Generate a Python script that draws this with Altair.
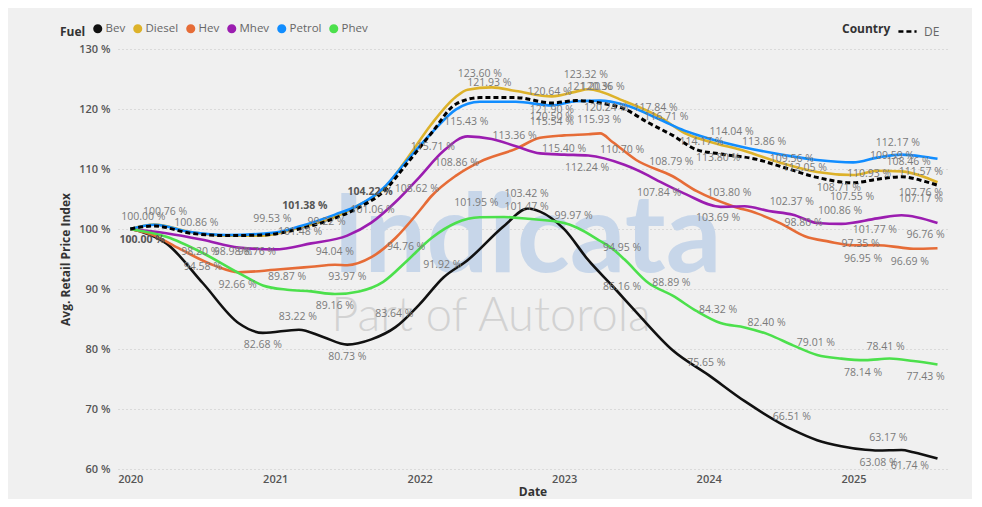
import altair as alt
import pandas as pd

# ---------------- data ----------------
fuels = ["Bev", "Diesel", "Hev", "Mhev", "Petrol", "Phev"]
fuel_colors = ["#111111", "#DDB22A", "#E66C37", "#9B1DB0", "#118DFF", "#4CE04C"]

# month index 0 = Jan 2020
bev_m = [0, 1, 3, 6, 9, 11, 14, 16, 18, 20, 22, 24, 26, 28, 31, 33, 34, 36, 38, 40, 42, 45, 48, 51, 55, 57, 59, 61, 62, 64, 65, 67]
bev_v = [100.0, 99.5, 97.6, 91.0, 84.3, 82.68, 83.22, 82.0, 80.73, 81.6, 83.64, 87.4, 91.92, 94.8, 100.5, 103.42, 102.9, 99.97,
         94.8, 90.5, 86.16, 79.8, 75.65, 71.3, 66.51, 64.8, 63.8, 63.2, 63.08, 63.17, 62.8, 61.74]

phev_m = [0, 3, 6, 9, 11, 13, 15, 17, 19, 21, 23, 25, 27, 29, 31, 33, 36, 37, 39, 40, 41, 43, 45, 47, 49, 51, 53, 55, 57, 59, 61, 63, 65, 67]
phev_v = [100.0, 98.7, 96.0, 92.66, 90.6, 89.87, 89.6, 89.16, 89.6, 91.2, 94.76, 98.5, 101.0, 101.95, 102.0, 101.7, 101.0, 100.3,
          98.0, 96.7, 94.95, 91.0, 88.89, 86.3, 84.32, 83.6, 82.4, 80.6, 79.01, 78.4, 78.14, 78.41, 78.0, 77.43]

hev_m = [0, 2, 4, 7, 9, 12, 15, 17, 18, 20, 22, 24, 25, 27, 29, 32, 34, 36, 38, 39, 40, 42, 45, 47, 50, 52, 54, 56, 58, 60, 62, 64, 65, 67]
hev_v = [100.0, 98.9, 96.8, 93.9, 92.8, 93.2, 93.7, 94.04, 93.97, 95.3, 98.5, 103.0, 105.5, 108.86, 111.2, 113.36, 115.2, 115.6,
         115.8, 115.93, 114.5, 111.5, 108.79, 106.3, 103.8, 102.6, 100.9, 98.8, 97.9, 97.3, 97.3, 96.9, 96.7, 96.8]

mhev_m = [0, 3, 6, 9, 12, 15, 18, 20, 22, 24, 26, 28, 30, 32, 34, 36, 38, 41, 43, 44, 46, 49, 51, 53, 55, 57, 59, 62, 64, 67]
mhev_v = [100.0, 99.3, 98.2, 96.9, 96.6, 97.6, 98.9, 101.06, 104.5, 108.62, 113.0, 115.43, 115.0, 113.8, 112.6, 112.4, 112.24,
          110.7, 108.9, 107.84, 105.9, 103.69, 103.8, 103.0, 102.37, 101.0, 100.86, 101.77, 102.3, 101.0]

petrol_m = [0, 2, 5, 8, 12, 14, 17, 19, 21, 23, 25, 27, 29, 32, 35, 37, 39, 41, 44, 46, 48, 51, 54, 57, 60, 62, 64, 66, 67]
petrol_v = [100.0, 100.7, 99.5, 99.0, 99.4, 100.4, 102.4, 104.0, 106.8, 111.5, 116.0, 119.9, 121.2, 121.2, 120.6, 121.3, 121.4,
            120.7, 118.2, 116.4, 115.1, 113.6, 112.4, 111.5, 111.1, 111.9, 112.4, 112.0, 111.7]

diesel_m = [0, 2, 5, 8, 11, 14, 17, 19, 21, 23, 25, 27, 28, 30, 32, 35, 37, 38, 41, 44, 46, 48, 51, 54, 57, 60, 62, 64, 66, 67]
diesel_v = [100.0, 100.76, 99.5, 98.9, 98.9, 100.2, 102.0, 104.0, 106.6, 111.8, 117.5, 122.0, 123.2, 123.6, 123.0, 122.1, 122.9,
            123.3, 121.3, 118.6, 116.0, 114.6, 113.0, 111.0, 109.5, 109.0, 109.7, 109.6, 108.6, 107.8]

de_m = [0, 2, 5, 8, 11, 14, 17, 19, 21, 23, 25, 27, 29, 32, 35, 37, 39, 41, 43, 45, 47, 49, 52, 54, 57, 60, 62, 64, 66, 67]
de_v = [100.0, 100.5, 99.3, 98.9, 99.0, 100.0, 101.8, 103.6, 106.2, 111.0, 116.0, 120.8, 121.9, 121.9, 121.0, 121.4, 121.0,
        120.0, 117.7, 115.6, 113.2, 112.5, 111.6, 110.4, 108.6, 107.7, 108.3, 108.7, 107.9, 107.3]

# data labels: month position, value shown, vertical offset (px), bold
lab_m = [1.1, 2.9, 1.0, 5.5, 5.8, 8.5, 10.5, 6.0, 8.9, 13.0, 11.8, 14.5, 16.3, 14.1, 20.1, 19.9, 17.0, 18.0, 17.0, 13.9,
         11.0, 18.0, 21.9, 22.9, 23.8, 25.1, 27.1, 25.9, 28.7, 27.9, 29.0, 29.8, 31.9, 32.9, 32.9, 34.8, 35.0, 35.0,
         35.0, 36.0, 36.8, 37.9, 37.8, 38.1, 39.2, 39.5, 38.9, 40.8, 40.8, 40.8, 43.6, 44.5, 44.9, 43.9, 44.9, 49.9,
         47.4, 52.6, 48.8, 49.7, 48.8, 48.8, 47.8, 52.8, 54.9, 56.0, 54.9, 55.9, 56.9, 54.9, 58.8, 59.9, 58.9, 60.6,
         60.8, 61.3, 61.8, 63.7, 63.2, 64.6, 65.6, 65.6, 65.6, 66.0, 64.7, 62.7, 60.8, 66.0, 62.9, 62.1, 64.7]
lab_v = [100.00, 100.76, 100.00, 100.86, 98.20, 98.98, 98.76, 94.58, 92.66, 89.87, 99.53, 101.38, 99.22, 101.48, 101.06,
         104.22, 94.04, 93.97, 89.16, 83.22, 82.68, 80.73, 83.64, 94.76, 108.62, 115.71, 108.86, 91.92, 101.95, 115.43,
         123.60, 121.93, 113.36, 103.42, 101.47, 120.64, 121.90, 120.50, 115.54, 115.40, 99.97, 112.24, 123.32, 121.20,
         120.36, 120.24, 115.93, 110.70, 94.95, 86.16, 117.84, 116.71, 108.79, 107.84, 88.89, 114.04, 114.17, 113.86,
         113.80, 103.80, 103.69, 84.32, 75.65, 82.40, 109.56, 112.05, 102.37, 98.80, 79.01, 66.51, 108.71, 107.55,
         100.86, 97.35, 96.95, 110.93, 101.77, 112.17, 109.59, 108.46, 111.57, 107.76, 107.17, 96.76, 96.69, 78.41,
         78.14, 77.43, 63.17, 63.08, 61.74]
lab_dy = [-12, -12, 11, -1, 12, 17, 16, 5, 12, -13, -13, -15, -12, 12, -13, -12, -13, 12, 12, -13,
          12, 12, -13, -13, 12, 12, -13, -12, -14, -14, -13, -14, -13, -14, -13, -13, 12, 11,
          -14, 12, -13, 12, -14, -15, -20, 0, -13, -15, -11, -25, -14, -12, -14, 11, -13, -13,
          -2, -4, 12, -13, 11, -13, -12, -12, -13, 11, -13, -13, -12, -13, 11, 13, -13, -1,
          12, 11, 12, -13, -15, -16, 12, 11, 13, -13, 13, -12, 13, 13, -12, 12, 7]
lab_bold = [False, False, True, False, False, False, False, False, False, False, False, True, False, False, False,
            True] + [False] * 75

# ---------------- tables ----------------
START = pd.Timestamp("2020-01-01")


def month_to_date(m):
    return (START + pd.Timedelta(days=round(m * 30.4375))).strftime("%Y-%m-%d")


series = {"Bev": (bev_m, bev_v), "Diesel": (diesel_m, diesel_v), "Hev": (hev_m, hev_v),
          "Mhev": (mhev_m, mhev_v), "Petrol": (petrol_m, petrol_v), "Phev": (phev_m, phev_v)}
rows = []
for fuel in fuels:
    ms, vs = series[fuel]
    for m, v in zip(ms, vs):
        rows.append({"Fuel": fuel, "Date": month_to_date(m), "value": v})
fuel_df = pd.DataFrame(rows)

de_df = pd.DataFrame({"Country": "DE", "Date": [month_to_date(m) for m in de_m], "value": de_v})

lab_df = pd.DataFrame({
    "Date": [month_to_date(m) for m in lab_m],
    "value": lab_v,
    "dy": lab_dy,
    "bold": lab_bold,
    "label": [f"{v:.2f} %" for v in lab_v],
})

FONT = "Segoe UI, Open Sans, sans-serif"

x_enc = alt.X(
    "Date:T",
    scale=alt.Scale(domain=["2019-12-01", "2025-08-25"]),
    axis=alt.Axis(
        title="Date", format="%Y",
        values=[alt.DateTime(year=y, month=1, date=1) for y in range(2020, 2026)],
        grid=False, domain=False, ticks=False, labelPadding=4, labelFontSize=11,
        labelColor="#555555", labelFontWeight=600, titleFontSize=12, titleFontWeight="bold",
        titleColor="#333333", titlePadding=2,
    ),
)
y_enc = alt.Y(
    "value:Q",
    scale=alt.Scale(domain=[60, 130], nice=False, zero=False),
    axis=alt.Axis(
        title="Avg. Retail Price Index", values=list(range(60, 131, 10)),
        labelExpr="datum.value + ' %'", grid=True, gridDash=[1, 3], gridColor="#c4c4c4",
        domain=False, ticks=False, labelPadding=8, labelFontSize=11, labelColor="#555555",
        labelFontWeight=600, titleFontSize=12, titleFontWeight="bold", titleColor="#333333",
        titlePadding=6,
    ),
)

# watermark
wm1 = alt.Chart(pd.DataFrame({"t": ["Indicata"]})).mark_text(
    font="Lato", fontSize=110, fontWeight="bold", color="#c7d6e9", align="center", baseline="alphabetic"
).encode(x=alt.value(409), y=alt.value(223), text="t:N")
wm2 = alt.Chart(pd.DataFrame({"t": ["Part of Autorola"]})).mark_text(
    font="Lato", fontSize=47, fontWeight=300, color="#d2d2d2", align="center", baseline="alphabetic"
).encode(x=alt.value(373), y=alt.value(282), text="t:N")

lines = alt.Chart(fuel_df).mark_line(interpolate="monotone", strokeWidth=2.6).encode(
    x=x_enc, y=y_enc,
    color=alt.Color("Fuel:N", scale=alt.Scale(domain=fuels, range=fuel_colors), legend=alt.Legend(
        title="Fuel", orient="none", legendX=-58, legendY=-26, direction="horizontal",
        titleOrient="left", titleFontSize=12, titleFontWeight="bold", titleColor="#333333",
        titlePadding=6, labelFontSize=11.5, labelColor="#666666", symbolType="circle", symbolSize=20,
        symbolStrokeWidth=4.6, labelOffset=2, columnPadding=0, gridAlign="none",
        titleFont=FONT, labelFont=FONT,
    )),
)

de_line = alt.Chart(de_df).mark_line(interpolate="monotone", strokeWidth=3, color="#000000").encode(
    x=x_enc, y=y_enc,
    strokeDash=alt.StrokeDash("Country:N", scale=alt.Scale(domain=["DE"], range=[[5, 3]]), legend=alt.Legend(
        title="Country", orient="none", legendX=724, legendY=-28, direction="horizontal",
        titleOrient="left", titleFontSize=12, titleFontWeight="bold", titleColor="#333333",
        titlePadding=6, labelFontSize=12, labelColor="#666666", symbolType="stroke", symbolSize=330,
        symbolStrokeWidth=2.5, symbolStrokeColor="#000000", labelOffset=6, titleFont=FONT, labelFont=FONT,
    )),
)

labels_norm = alt.Chart(lab_df).transform_filter("!datum.bold").mark_text(
    font=FONT, fontSize=10.5, color="#7a7a7a", align="center", baseline="middle", dy={"expr": "datum.dy"}
).encode(x=x_enc, y=y_enc, text="label:N")

labels_bold = alt.Chart(lab_df).transform_filter("datum.bold").mark_text(
    font=FONT, fontSize=10.5, fontWeight="bold", color="#555555", align="center", baseline="middle",
    dy={"expr": "datum.dy"}
).encode(x=x_enc, y=y_enc, text="label:N")

chart = alt.layer(wm1, wm2, lines, de_line, labels_norm, labels_bold).properties(
    width=829, height=420,
    autosize=alt.AutoSizeParams(type="none"),
    padding={"left": 110, "top": 41, "right": 25, "bottom": 30},
    background="#f0f0f0",
).configure(font=FONT).configure_view(stroke=None)

chart.save("out.html", embed_options={"renderer": "svg", "actions": False})
